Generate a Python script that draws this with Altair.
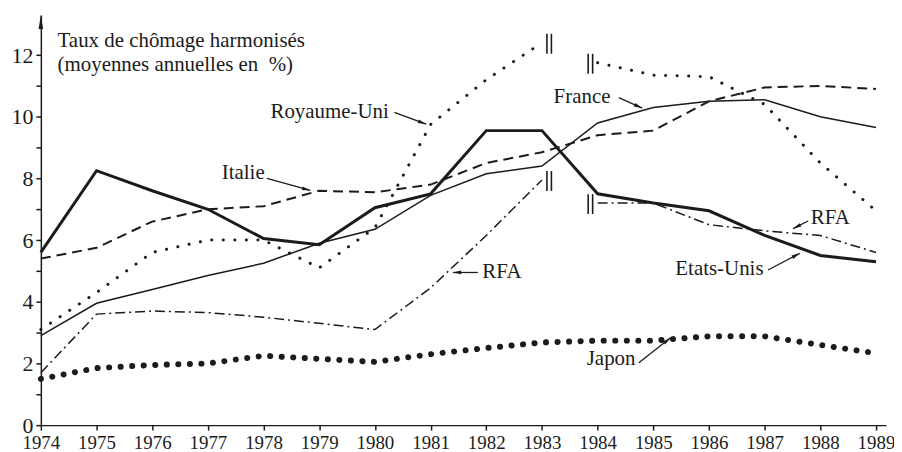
import math
import altair as alt
import pandas as pd

# ---------------- data ----------------
years = list(range(1974, 1990))
years_a = list(range(1974, 1984))   # before the 1983/84 series break
years_b = list(range(1984, 1990))   # after the break

france = [2.9, 3.95, 4.4, 4.85, 5.25, 5.9, 6.35, 7.45, 8.15, 8.4, 9.8, 10.3, 10.5, 10.55, 10.0, 9.65]
etats_unis = [5.6, 8.25, 7.6, 7.0, 6.05, 5.85, 7.05, 7.5, 9.55, 9.55, 7.5, 7.2, 6.95, 6.15, 5.5, 5.3]
italie = [5.4, 5.75, 6.6, 7.0, 7.1, 7.6, 7.55, 7.8, 8.5, 8.85, 9.4, 9.55, 10.5, 10.95, 11.0, 10.9]
japon = [1.5, 1.85, 1.95, 2.0, 2.25, 2.15, 2.05, 2.3, 2.5, 2.68, 2.74, 2.74, 2.88, 2.88, 2.6, 2.33]
royaume_uni_a = [3.1, 4.3, 5.6, 6.0, 6.0, 5.1, 6.4, 9.75, 11.2, 12.4]
royaume_uni_b = [11.75, 11.35, 11.3, 10.4, 8.5, 6.95]
rfa_a = [1.7, 3.6, 3.7, 3.65, 3.5, 3.3, 3.1, 4.45, 6.15, 7.95]
rfa_b = [7.2, 7.2, 6.5, 6.3, 6.15, 5.6]

title_lines = ["Taux de chômage harmonisés", "(moyennes annuelles en\u00a0 %)"]

# annotation labels and their leader arrows (data coordinates)
ann_labels = ["Royaume-Uni", "France", "Italie", "RFA", "RFA", "Etats-Unis", "Japon"]
ann_x = [1980.25, 1984.23, 1978.02, 1981.93, 1987.83, 1986.98, 1984.68]
ann_y = [10.15, 10.65, 8.16, 4.98, 6.73, 5.06, 2.13]
ann_align = ["right", "right", "right", "left", "left", "right", "right"]
arr_x1 = [1980.35, 1984.38, 1978.06, 1981.85, 1987.78, 1987.06, 1984.74]
arr_y1 = [10.14, 10.62, 8.0, 4.95, 6.62, 5.03, 2.02]
arr_x2 = [1980.92, 1984.80, 1978.84, 1981.40, 1987.51, 1987.63, 1985.31]
arr_y2 = [9.76, 10.28, 7.61, 4.95, 6.37, 5.57, 2.83]

# ---------------- layout / style ----------------
FONT = "'Liberation Serif', 'Times New Roman', Times, 'DejaVu Serif', serif"
INK = "#1b1b1b"
X_DOMAIN = [1974, 1989.18]
Y_DOMAIN = [0, 13.3]
W, H = 849, 412
PX_YEAR = W / (X_DOMAIN[1] - X_DOMAIN[0])
PX_VAL = H / (Y_DOMAIN[1] - Y_DOMAIN[0])

rows = []
def add(pays, seg, ys, vs):
    for y, v in zip(ys, vs):
        rows.append({"pays": pays, "segment": seg, "year": y, "value": v})

add("France", "France", years, france)
add("Etats-Unis", "Etats-Unis", years, etats_unis)
add("Italie", "Italie", years, italie)
add("Japon", "Japon", years, japon)
add("Royaume-Uni", "RU-a", years_a, royaume_uni_a)
add("Royaume-Uni", "RU-b", years_b, royaume_uni_b)
add("RFA", "RFA-a", years_a, rfa_a)
add("RFA", "RFA-b", years_b, rfa_b)
df = pd.DataFrame(rows)

xs = alt.Scale(domain=X_DOMAIN, nice=False, zero=False)
ys = alt.Scale(domain=Y_DOMAIN, nice=False, zero=True)

x_axis = alt.Axis(values=years, format="d", labelAngle=0, tickSize=5, labelPadding=3,
                  labelFontSize=19, labelFont=FONT, labelColor=INK, domainColor=INK,
                  tickColor=INK, domainWidth=1.5, tickWidth=1.5, grid=False, title=None,
                  labelOverlap=False, labelFlush=False)
y_axis = alt.Axis(values=list(range(0, 13)), labelExpr="datum.value % 2 == 0 ? datum.label : ''",
                  tickSize=5, labelPadding=3, labelFontSize=22, labelFont=FONT, labelColor=INK,
                  domainColor=INK, tickColor=INK, domainWidth=1.5, tickWidth=1.5, grid=False,
                  title=None, labelOverlap=False)

def X(field="year"):
    return alt.X(f"{field}:Q", scale=xs, axis=x_axis)

def Y(field="value"):
    return alt.Y(f"{field}:Q", scale=ys, axis=y_axis)

base = alt.Chart(df)

def line(pays, **kw):
    return base.transform_filter(alt.datum.pays == pays).mark_line(color=INK, **kw).encode(
        x=X(), y=Y(), detail="segment:N")

l_japon = line("Japon", strokeWidth=6, strokeDash=[0.1, 11.5], strokeCap="round")
l_uk = line("Royaume-Uni", strokeWidth=3, strokeDash=[0.1, 11.5], strokeCap="round")
l_rfa = line("RFA", strokeWidth=1.5, strokeDash=[10, 4, 2, 4])
l_italie = line("Italie", strokeWidth=2, strokeDash=[10, 6])
l_france = line("France", strokeWidth=1.5)
l_us = line("Etats-Unis", strokeWidth=3)

# series-break markers: two short vertical bars at each end of the gap
brk_end = pd.DataFrame({"year": [years_a[-1], years_a[-1]], "value": [royaume_uni_a[-1], rfa_a[-1]]})
brk_start = pd.DataFrame({"year": [years_b[0], years_b[0]], "value": [royaume_uni_b[0], rfa_b[0]]})

def bars(d, offset):
    return alt.Chart(d).mark_tick(orient="vertical", size=20, thickness=1.6, color=INK,
                                  opacity=1, xOffset=offset, yOffset=1).encode(x=X(), y=Y())

brk_layers = [bars(brk_end, 5), bars(brk_end, 9.5), bars(brk_start, -9.5), bars(brk_start, -5)]

# annotation labels
ann = pd.DataFrame({"label": ann_labels, "tx": ann_x, "ty": ann_y, "align": ann_align})
t_right = alt.Chart(ann).transform_filter(alt.datum.align == "right").mark_text(
    align="right", baseline="middle", font=FONT, fontSize=21, color=INK).encode(
    x=X("tx"), y=Y("ty"), text="label:N")
t_left = alt.Chart(ann).transform_filter(alt.datum.align == "left").mark_text(
    align="left", baseline="middle", font=FONT, fontSize=21, color=INK).encode(
    x=X("tx"), y=Y("ty"), text="label:N")

# leader arrows
angles = []
for a, b, c, d in zip(arr_x1, arr_y1, arr_x2, arr_y2):
    dxp = (c - a) * PX_YEAR
    dyp = -(d - b) * PX_VAL
    angles.append(math.degrees(math.atan2(dxp, -dyp)) % 360)
arr = pd.DataFrame({"x1": arr_x1, "y1": arr_y1, "x2": arr_x2, "y2": arr_y2, "angle": angles})
r_arrows = alt.Chart(arr).mark_rule(color=INK, strokeWidth=1.3).encode(
    x=X("x1"), y=Y("y1"), x2="x2:Q", y2="y2:Q")
h_arrows = alt.Chart(arr).mark_point(shape="M0,0L0.45,2L-0.45,2Z", filled=True, color=INK,
                                     opacity=1, size=70).encode(
    x=X("x2"), y=Y("y2"), angle=alt.Angle("angle:Q", scale=None))

# y-axis arrow head
axis_tip = pd.DataFrame({"year": [X_DOMAIN[0]], "value": [Y_DOMAIN[1]]})
h_axis = alt.Chart(axis_tip).mark_point(shape="M0,0L0.32,2L-0.32,2Z", filled=True, color=INK,
                                        opacity=1, size=200).encode(x=X(), y=Y())

# title (two lines, as text inside the plot)
ttl = pd.DataFrame({"t": title_lines, "year": [1974.30, 1974.30], "value": [12.45, 11.68]})
t_title = alt.Chart(ttl).mark_text(align="left", baseline="middle", font=FONT, fontSize=21,
                                   color=INK).encode(x=X(), y=Y(), text="t:N")

chart = alt.layer(
    l_japon, l_uk, l_rfa, l_italie, l_france, l_us,
    *brk_layers, r_arrows, h_arrows, t_right, t_left, t_title, h_axis
).properties(
    width=W, height=H,
    autosize=alt.AutoSizeParams(type="none"),
    padding={"left": 33, "top": 6, "right": 8, "bottom": 30},
    background="white",
).configure_view(stroke=None)

chart.save("out.html", embed_options={"renderer": "svg", "actions": False})
